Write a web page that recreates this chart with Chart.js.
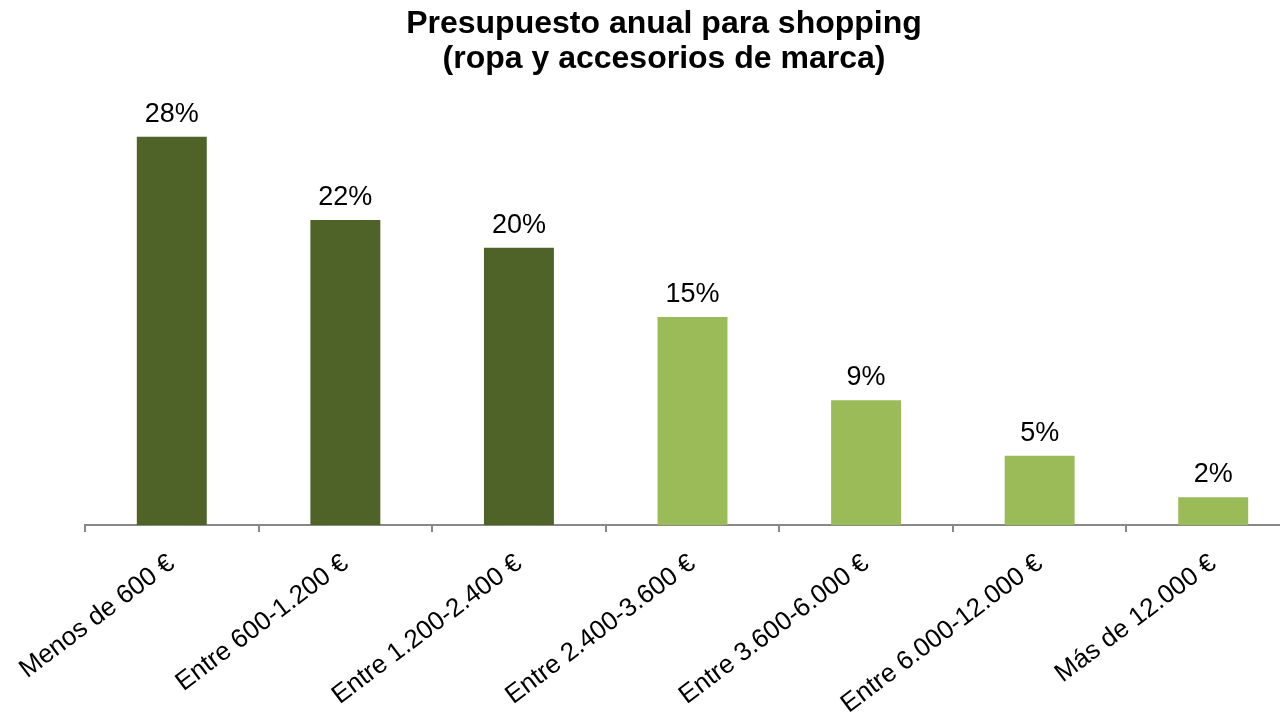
<!DOCTYPE html>
<html>
<head>
<meta charset="utf-8">
<script src="https://cdn.jsdelivr.net/npm/chart.js@4.4.0/dist/chart.umd.min.js"></script>
<style>
  html, body { margin: 0; padding: 0; background: #fff; overflow: hidden; }
  #wrap { width: 1328px; height: 717px; position: relative; }
</style>
</head>
<body>
<div id="wrap"><canvas id="myChart"></canvas></div>
<script>
const categories = [
  "Menos de 600 €",
  "Entre 600-1.200 €",
  "Entre 1.200-2.400 €",
  "Entre 2.400-3.600 €",
  "Entre 3.600-6.000 €",
  "Entre 6.000-12.000 €",
  "Más de 12.000 €"
];
const shares = [28, 22, 20, 15, 9, 5, 2];
const barColors = ["#4F6228", "#4F6228", "#4F6228", "#9BBB59", "#9BBB59", "#9BBB59", "#9BBB59"];
const titleLines = ["Presupuesto anual para shopping", "(ropa y accesorios de marca)"];

const FONT = "'Liberation Sans', Arial, sans-serif";

// two-line title, centred over the visible page
const chartTitle = {
  id: "chartTitle",
  afterDraw(chart) {
    const ctx = chart.ctx;
    ctx.save();
    ctx.font = "bold 32px " + FONT;
    ctx.fillStyle = "#000";
    ctx.textAlign = "center";
    ctx.textBaseline = "middle";
    titleLines.forEach((line, i) => ctx.fillText(line, 664, 24 + i * 35));
    ctx.restore();
  }
};

// percentage above each bar
const valueLabels = {
  id: "valueLabels",
  afterDatasetsDraw(chart) {
    const ctx = chart.ctx;
    const meta = chart.getDatasetMeta(0);
    ctx.save();
    ctx.font = "27px " + FONT;
    ctx.fillStyle = "#000";
    ctx.textAlign = "center";
    ctx.textBaseline = "alphabetic";
    meta.data.forEach((bar, i) => {
      ctx.fillText(shares[i] + "%", bar.x, bar.y - 15);
    });
    ctx.restore();
  }
};

new Chart(document.getElementById("myChart"), {
  type: "bar",
  data: {
    labels: categories,
    datasets: [{
      data: shares,
      backgroundColor: barColors,
      borderWidth: 0,
      categoryPercentage: 1,
      barPercentage: 0.403
    }]
  },
  options: {
    responsive: true,
    maintainAspectRatio: false,
    animation: false,
    layout: { padding: { left: 85, right: 28, top: 109, bottom: 0 } },
    plugins: {
      legend: { display: false },
      tooltip: { enabled: false },
      title: { display: false }
    },
    scales: {
      y: { display: false, min: 0, max: 30 },
      x: {
        border: { color: "#888", width: 2 },
        grid: { drawOnChartArea: false, color: "#888", tickLength: 7, lineWidth: 2 },
        ticks: {
          color: "#000",
          font: { family: FONT, size: 26 },
          minRotation: 37,
          maxRotation: 37,
          padding: 16
        },
        afterFit(scale) { scale.height = 192; }
      }
    }
  },
  plugins: [valueLabels, chartTitle]
});
</script>
</body>
</html>
